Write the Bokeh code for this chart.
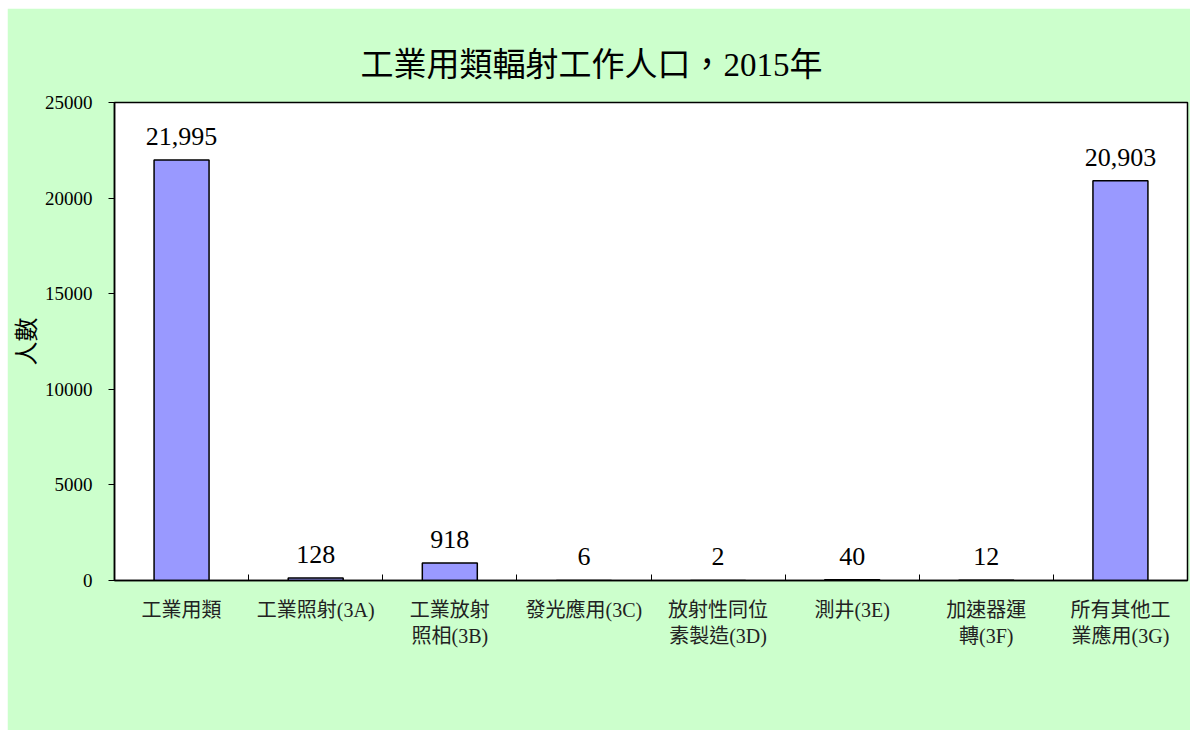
from bokeh.plotting import figure
from bokeh.models import FixedTicker, ColumnDataSource, LabelSet, Range1d
from bokeh.embed import file_html
from bokeh.resources import INLINE

categories = ["工業用類", "工業照射(3A)", "工業放射\n照相(3B)", "發光應用(3C)",
              "放射性同位\n素製造(3D)", "測井(3E)", "加速器運\n轉(3F)", "所有其他工\n業應用(3G)"]
values = [21995, 128, 918, 6, 2, 40, 12, 20903]
y_ticks = [0, 5000, 10000, 15000, 20000, 25000]

FONT = "'Liberation Serif', 'Noto Sans CJK TC', serif"

xs = [i + 0.5 for i in range(len(categories))]
src = ColumnDataSource(dict(x=xs, top=values, lab=[f"{v:,}" for v in values]))

p = figure(width=1183, height=722, output_backend="svg", toolbar_location=None,
           x_range=Range1d(0, len(categories)), y_range=Range1d(0, 25000),
           min_border_left=107, min_border_top=94, min_border_bottom=150, min_border_right=3,
           background_fill_color="white", border_fill_color="#CCFFCC",
           outline_line_color="black", outline_line_width=1.5)
p.margin = (8, 0, 0, 7)

p.title.text = "工業用類輻射工作人口，2015年"
p.title.text_font = FONT
p.title.text_font_size = "33px"
p.title.text_font_style = "normal"
p.title.text_color = "black"
p.title.align = "left"
p.title.offset = 246
p.title.standoff = 39

p.vbar(x="x", top="top", width=0.41, source=src, fill_color="#9999FF",
       line_color="black", line_width=1.5)

labels = LabelSet(x="x", y="top", text="lab", source=src, text_align="center",
                  text_baseline="bottom", y_offset=15, text_font=FONT,
                  text_font_size="26px", text_color="black")
p.add_layout(labels)

p.xgrid.visible = False
p.ygrid.visible = False

p.xaxis.ticker = FixedTicker(ticks=xs, minor_ticks=list(range(1, len(categories))))
p.xaxis.major_label_overrides = {x: c for x, c in zip(xs, categories)}
p.xaxis.major_tick_in = 0
p.xaxis.major_tick_out = 0
p.xaxis.minor_tick_in = 6
p.xaxis.minor_tick_out = 0
p.xaxis.minor_tick_line_color = "black"
p.xaxis.axis_line_color = "black"
p.xaxis.axis_line_width = 1.5
p.xaxis.major_label_text_font = FONT
p.xaxis.major_label_text_font_size = "20px"
p.xaxis.major_label_text_color = "#222222"
p.xaxis.major_label_standoff = 18

p.yaxis.ticker = FixedTicker(ticks=y_ticks, minor_ticks=[])
p.yaxis.major_tick_in = 0
p.yaxis.major_tick_out = 6
p.yaxis.major_tick_line_color = "black"
p.yaxis.axis_line_color = "black"
p.yaxis.axis_line_width = 1.5
p.yaxis.major_label_text_font = FONT
p.yaxis.major_label_text_font_size = "19px"
p.yaxis.major_label_text_color = "black"
p.yaxis.major_label_standoff = 16
p.yaxis.axis_label = "人數"
p.yaxis.axis_label_text_font = FONT
p.yaxis.axis_label_text_font_size = "24px"
p.yaxis.axis_label_text_font_style = "normal"
p.yaxis.axis_label_text_color = "black"
p.yaxis.axis_label_standoff = 2

open("out.html", "w").write(file_html(p, INLINE))
